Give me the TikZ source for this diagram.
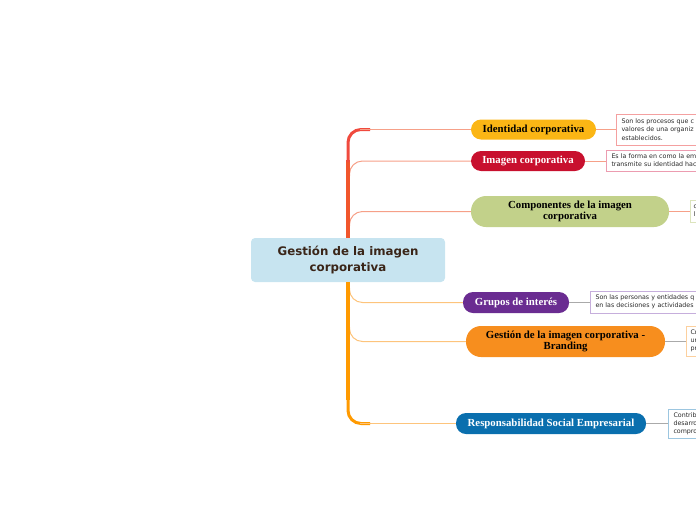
\documentclass[tikz,border=0pt]{standalone}
\usepackage{fontspec}
\setmainfont{Liberation Serif}
\newfontfamily\dejavu{DejaVu Sans}
\definecolor{cfill}{HTML}{C7E4F0}
\definecolor{ctext}{HTML}{3A2518}
\definecolor{trunkA}{HTML}{F1562C}
\definecolor{trunkT}{HTML}{F04A3E}
\definecolor{trunkB}{HTML}{FF9A00}
\definecolor{brA}{HTML}{F6A088}
\definecolor{brB}{HTML}{FDC47C}
\definecolor{cA}{HTML}{FBB615}
\definecolor{cB}{HTML}{C8102E}
\definecolor{cC}{HTML}{C2D18A}
\definecolor{cD}{HTML}{6A2C91}
\definecolor{cE}{HTML}{F78E1E}
\definecolor{cF}{HTML}{0A6FAE}
\definecolor{bA}{HTML}{F4A0A0}
\definecolor{bB}{HTML}{EC9CB0}
\definecolor{bC}{HTML}{DCE4BC}
\definecolor{bD}{HTML}{C6AEDC}
\definecolor{bE}{HTML}{FCD09E}
\definecolor{bF}{HTML}{9CC6E0}
\definecolor{dtext}{HTML}{2A2A2A}
\definecolor{gline}{HTML}{AAAAAA}
\tikzset{
  topic/.style={rounded corners=10pt, inner sep=0pt, align=center,
    font=\bfseries\fontsize{10.8}{11.5}\selectfont},
  desc/.style={draw, fill=white, line width=1pt, anchor=west, inner sep=0pt,
    minimum width=150pt, text width=140pt, align=left, text=dtext,
    font=\dejavu\fontsize{6.3}{8.2}\selectfont},
  trunk/.style={line width=4.5pt},
  branch/.style={line width=1pt, rounded corners=13pt},
}
\begin{document}
\begin{tikzpicture}[x=1pt,y=-1pt]
\useasboundingbox (0,0) rectangle (696,520);
% central
\node[fill=cfill, rounded corners=4pt, minimum width=194pt, minimum height=44pt,
  align=center, text=ctext, font=\dejavu\bfseries\fontsize{11.8}{15.5}\selectfont] (c) at (348,260)
  {Gestión de la imagen\\corporativa};
% topics
\node[topic, fill=cA, text=black, minimum width=125pt, minimum height=20pt] (n1) at (533.5,129.5) {Identidad corporativa};
\node[topic, fill=cB, text=white, minimum width=114pt, minimum height=20pt] (n2) at (528,161) {Imagen corporativa};
\node[topic, fill=cC, text=black, rounded corners=15pt, minimum width=198pt, minimum height=31pt] (n3) at (570,211.5) {Componentes de la imagen\\corporativa};
\node[topic, fill=cD, text=white, minimum width=106pt, minimum height=21pt] (n4) at (516,302.5) {Grupos de interés};
\node[topic, fill=cE, text=black, rounded corners=15pt, minimum width=199pt, minimum height=31pt] (n5) at (565.5,341.5) {Gestión de la imagen corporativa -\\Branding};
\node[topic, fill=cF, text=white, minimum width=190pt, minimum height=21pt] (n6) at (551,423.5) {Responsabilidad Social Empresarial};
% description boxes
\node[desc, draw=bA, minimum height=31pt] (d1) at (616,129.5) {Son los procesos que c\\valores de una organiz\\establecidos.};
\node[desc, draw=bB, minimum height=21pt] (d2) at (606,160.5) {Es la forma en como la em\\transmite su identidad hac};
\node[desc, draw=bC, minimum height=22pt] (d3) at (690,211) {\hspace*{-2pt}c\\\hspace*{-2pt}l};
\node[desc, draw=bD, minimum height=22pt] (d4) at (590,302) {Son las personas y entidades q\\en las decisiones y actividades};
\node[desc, draw=bE, minimum height=30pt] (d5) at (686,341) {\hspace*{-1pt}Cr\\\hspace*{-1pt}ur\\\hspace*{-1pt}pr};
\node[desc, draw=bF, minimum height=29pt] (d6) at (668,423.5) {Contrib\\desarro\\compro};
% trunk coordinates
\coordinate (k1) at (370,129.5);
\coordinate (t2) at (349.5,176);
\coordinate (t3) at (349.5,226);
\coordinate (t4) at (349.5,288);
\coordinate (t5) at (349.5,327);
\coordinate (k6) at (370,423.5);
% middle branches
\draw[branch, brA] (t2) |- (n2.west);
\draw[branch, brA] (t3) |- (n3.west);
\draw[branch, brB] (t4) |- (n4.west);
\draw[branch, brB] (t5) |- (n5.west);
% end branches
\draw[line width=1pt, brA] (k1) -- (n1.west);
\draw[line width=1pt, brB] (k6) -- (n6.west);
% trunks with curved ends
\draw[trunk, trunkA] (c.north) -- (348,160);
\draw[trunkT, line width=3pt, rounded corners=13pt] (348,162) |- (k1);
\draw[brA, line width=1.6pt] (360,129.5) -- (k1);
\draw[trunk, trunkB] (c.south) -- (348,400);
\draw[trunkB, line width=3pt, rounded corners=13pt] (348,398) |- (k6);
\draw[brB, line width=1.6pt] (360,423.5) -- (k6);
% connectors to descriptions
\draw[line width=1pt, brA] (n1.east) -- (d1.west |- n1.east);
\draw[line width=1pt, brA] (n2.east) -- (d2.west |- n2.east);
\draw[line width=1pt, brA] (n3.east) -- (d3.west |- n3.east);
\draw[line width=1pt, gline] (n4.east) -- (d4.west |- n4.east);
\draw[line width=1pt, gline] (n5.east) -- (d5.west |- n5.east);
\draw[line width=1pt, gline] (n6.east) -- (d6.west |- n6.east);
\end{tikzpicture}
\end{document}
